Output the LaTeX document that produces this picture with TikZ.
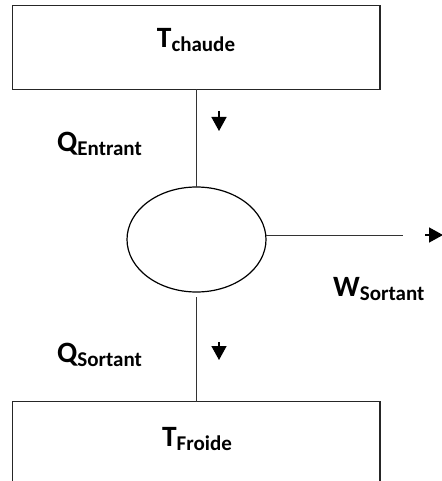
\documentclass[tikz,border=0pt]{standalone}
\usepackage{fontspec}
\setmainfont{Carlito}
\usetikzlibrary{arrows.meta,shapes.geometric}
\newcommand\lblmain[2]{{\fontsize{29.5}{29.5}\selectfont\bfseries #1\raisebox{-4pt}{\fontsize{21}{21}\selectfont #2}}}
\tikzset{
  boxline/.style={line width=1.3pt, draw=black!85},
  conn/.style={line width=1pt, draw=black!80},
  flowarrow/.style={line width=1.5pt, -{Triangle[width=15pt,length=14pt]}},
  lbl/.style={inner sep=0pt, anchor=base west},
}
\begin{document}
\begin{tikzpicture}[x=1pt,y=-1pt]
\useasboundingbox (0,0) rectangle (441,481);
% hot reservoir
\draw[boxline] (12.7,5.3) rectangle (380,89.3);
\coordinate (topmid) at (196.3,89.3);
\node[inner sep=0pt, anchor=base] (tch) at (196,48) {\lblmain{T}{chaude}};
% engine
\node[draw, ellipse, line width=1.2pt, minimum width=139pt, minimum height=105pt, inner sep=0pt] (eng) at (196.5,239.5) {};
\draw[conn] (topmid) -- (196.3,187);
% cold reservoir
\draw[boxline] (12.7,481) -- (12.7,401.7) -- (380,401.7) -- (380,481);
\coordinate (botmid) at (196.3,401.7);
\coordinate (botstart) at (196.3,297);
\draw[conn] (botstart) -- (botmid);
\node[inner sep=0pt, anchor=base] (tfr) at (197,446) {\lblmain{T}{Froide}};
% work line
\coordinate (wstart) at (266,235);
\coordinate (wend) at (403,235);
\draw[conn] (wstart) -- (wend);
% arrows
\coordinate (a1s) at (219,111);
\coordinate (a1e) at (219,131);
\draw[flowarrow] (a1s) -- (a1e);
\coordinate (a2s) at (219,342);
\coordinate (a2e) at (219,360);
\draw[flowarrow] (a2s) -- (a2e);
\coordinate (a3s) at (425,235);
\coordinate (a3e) at (443,235);
\draw[flowarrow] (a3s) -- (a3e);
% labels
\node[lbl] (qe) at (57,151) {\lblmain{Q}{Entrant}};
\node[lbl] (qs) at (57,362) {\lblmain{Q}{Sortant}};
\node[lbl] (ws) at (333,296) {\lblmain{W}{Sortant}};
\end{tikzpicture}
\end{document}
